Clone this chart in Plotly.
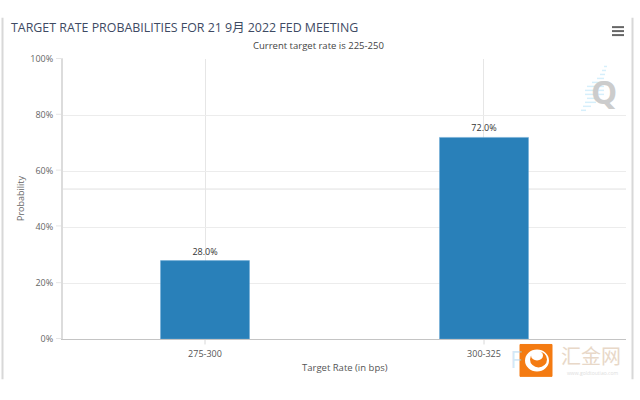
import plotly.graph_objects as go

rates = ["275-300", "300-325"]
probs = [28.0, 72.0]
bar_labels = ["28.0%", "72.0%"]
y_ticks = [0, 20, 40, 60, 80, 100]
y_labels = ["0%", "20%", "40%", "60%", "80%", "100%"]

W, H = 640, 400
L, R, T, B = 63, 626, 58.5, 339.5


# paper coords run over the plot area, so convert from page pixels
def px(x):
    return (x - L) / (R - L)


def py(y):
    return (B - y) / (B - T)


def paper_line(x0, y0, x1, y1, color, width=1):
    return dict(type="line", xref="paper", yref="paper", x0=px(x0), y0=py(y0), x1=px(x1), y1=py(y1),
                line=dict(color=color, width=width), layer="below")


def paper_text(x, y, text, size, color, family="Open Sans, sans-serif", anchor="center", **kw):
    return dict(xref="paper", yref="paper", x=px(x), y=py(y), text=text, showarrow=False,
                xanchor=anchor, yanchor="middle", font=dict(size=size, color=color, family=family), **kw)


fig = go.Figure()
fig.add_trace(go.Bar(x=rates, y=probs, width=0.319, text=bar_labels, textposition="outside",
                     cliponaxis=False,
                     textfont=dict(size=9, color="#333333", family="Open Sans, sans-serif"),
                     marker=dict(color="#2980b9", line=dict(color="#6aa9d6", width=0.5)),
                     hoverinfo="skip"))

shapes = [
    # page frame, stray rule behind the plot
    paper_line(2.5, 17, 2.5, 380, "#d8d8d8", 2),
    paper_line(632.5, 17, 632.5, 380, "#d8d8d8", 2),
    paper_line(63, 189, 626, 189, "#e0e0e0", 1),
    # tick stubs on the axes
    paper_line(56, 58, 63, 58, "#e6e6e6", 1),
    paper_line(56, 114, 63, 114, "#e6e6e6", 1),
    paper_line(56, 170, 63, 170, "#e6e6e6", 1),
    paper_line(56, 226, 63, 226, "#e6e6e6", 1),
    paper_line(56, 283, 63, 283, "#e6e6e6", 1),
    paper_line(56, 339, 63, 339, "#e6e6e6", 1),
    paper_line(205, 339, 205, 345, "#d8d8d8", 1),
    paper_line(484, 339, 484, 345, "#d8d8d8", 1),
    # menu icon
    paper_line(612, 26.5, 624, 26.5, "#666666", 2),
    paper_line(612, 30.5, 624, 30.5, "#666666", 2),
    paper_line(612, 34.5, 624, 34.5, "#666666", 2),
    # orange logo
    dict(type="rect", xref="paper", yref="paper", x0=px(520), y0=py(345), x1=px(552), y1=py(377),
         fillcolor="#f47b12", line=dict(color="#f47b12", width=1), layer="above"),
    dict(type="circle", xref="paper", yref="paper", x0=px(525), y0=py(350), x1=px(549), y1=py(372),
         fillcolor="#ffffff", line=dict(width=0), layer="above"),
    dict(type="circle", xref="paper", yref="paper", x0=px(530), y0=py(352), x1=px(547), y1=py(368),
         fillcolor="#f47b12", line=dict(width=0), layer="above"),
    dict(type="circle", xref="paper", yref="paper", x0=px(531), y0=py(351), x1=px(543), y1=py(361),
         fillcolor="#ffffff", line=dict(width=0), layer="above"),
]
# light blue stripes behind the Q watermark
for y, x0, x1 in [(66, 604, 607), (70, 602, 606), (74, 600, 605), (78, 597, 604), (82, 592, 604),
                  (86, 587, 604), (90, 585, 604), (94, 585, 604), (98, 587, 600), (102, 585, 596),
                  (106, 583, 591), (110, 581, 586)]:
    shapes.append(paper_line(x0, y, x1, y, "#d6effb", 1.5))

annotations = [
    paper_text(9, 27, "TARGET RATE PROBABILITIES FOR 21 9月 2022 FED MEETING", 12.4, "#3e4a63", anchor="left",
               family="Open Sans, Noto Sans CJK SC, sans-serif"),
    paper_text(318, 44.5, "Current target rate is 225-250", 9.5, "#444444"),
    paper_text(604, 91, "<b>Q</b>", 33, "#cccccc"),
    paper_text(345, 368, "Target Rate (in bps)", 9.5, "#555555"),
    paper_text(20, 198, "Probability", 9, "#666666", textangle=-90),
    # faint watermark letters, then the logo's name
    paper_text(516, 359, "F", 24, "rgba(170,210,240,0.5)"),
    paper_text(591, 356, "汇金网", 20, "#e8d8c8", family="Noto Sans CJK SC, sans-serif"),
    paper_text(592, 374, "www.goldtoutiao.com", 5, "#dddddd"),
]

fig.update_layout(
    width=W, height=H, autosize=False,
    margin=dict(l=L, r=W - R, t=T, b=H - B),
    paper_bgcolor="#ffffff", plot_bgcolor="#ffffff",
    showlegend=False,
    shapes=shapes, annotations=annotations,
    font=dict(family="Open Sans, sans-serif"),
)
fig.update_xaxes(type="category", range=[-0.509, 1.509], showgrid=True, gridcolor="#e6e6e6", gridwidth=1,
                 showline=True, linecolor="#c4c4c4", linewidth=1, ticks="",
                 tickfont=dict(size=9, color="#555555"), zeroline=False, ticklabelstandoff=6)
fig.update_yaxes(range=[0, 100], tickvals=y_ticks, ticktext=y_labels, showgrid=True, gridcolor="#ececec",
                 gridwidth=1, showline=True, linecolor="#dcdcdc", linewidth=2, ticks="",
                 tickfont=dict(size=9, color="#666666"), zeroline=False, ticklabelstandoff=6)

# the page's default body margin would push everything 8px in
fig.write_html("out.html", config=dict(displayModeBar=False),
               post_script="document.body.style.margin='0';")
